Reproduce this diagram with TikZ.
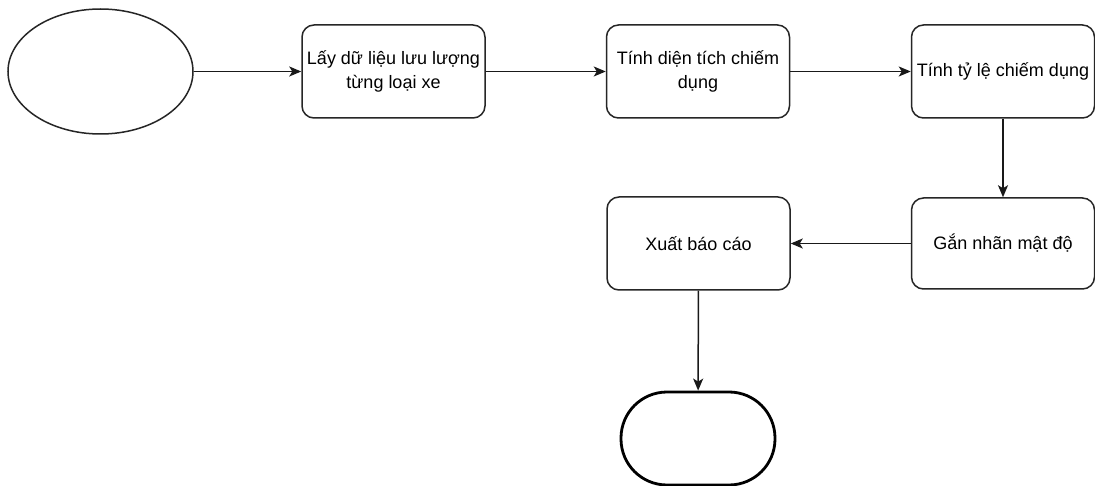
\documentclass[tikz,border=0pt]{standalone}
\usepackage{fontspec}
\setmainfont{Liberation Sans}
\usetikzlibrary{shapes.geometric,arrows.meta}
\begin{document}
\begin{tikzpicture}[x=1pt,y=-1pt,
  every node/.style={font=\fontsize{18}{23.5}\selectfont, inner sep=0pt, align=center},
  procbox/.style={draw=black!85, line width=1.5pt, rounded corners=12pt, rectangle,
    minimum width=183pt, minimum height=93pt},
  startshape/.style={draw=black!85, line width=1.5pt, ellipse,
    minimum width=185pt, minimum height=125pt},
  endshape/.style={draw=black, line width=2.8pt, rectangle, rounded corners=46pt,
    minimum width=154pt, minimum height=93pt},
  flow/.style={draw=black!90, line width=1.5pt,
    -{Stealth[length=12pt,width=10pt,inset=3pt]}}
]
\useasboundingbox (0,0) rectangle (1095,486);
\fill[white] (0,0) rectangle (1095,486);

% nodes
\node[startshape] (start) at (100.5,71.5) {};
\node[procbox] (fetch) at (393.5,71.5) {Lấy dữ liệu lưu lượng\\từng loại xe};
\node[procbox] (area) at (698,71.5) {Tính diện tích chiếm\\dụng};
\node[procbox] (ratio) at (1003,71.5) {Tính tỷ lệ chiếm dụng};
\node[procbox, minimum height=91pt] (label) at (1003,243.5) {Gắn nhãn mật độ};
\node[procbox] (report) at (698.5,243.5) {Xuất báo cáo};
\node[endshape] (stop) at (698,438.5) {};

% connectors
\draw[flow] (start) -- (fetch);
\draw[flow] (fetch) -- (area);
\draw[flow] (area) -- (ratio);
\draw[flow] (ratio) -- (label);
\draw[flow] (label) -- (report);
\draw[flow] (report) -- (stop);
\end{tikzpicture}
\end{document}
